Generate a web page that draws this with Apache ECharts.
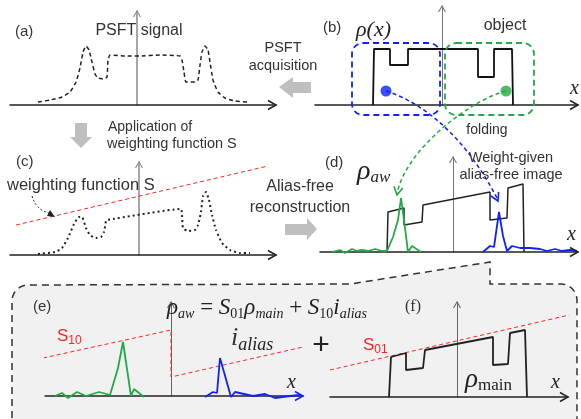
<!DOCTYPE html>
<html>
<head>
<meta charset="utf-8">
<script src="https://cdn.jsdelivr.net/npm/echarts@6/dist/echarts.min.js"></script>
<style>
  html, body { margin: 0; padding: 0; background: #fff; }
  #chart { width: 581px; height: 419px; }
</style>
</head>
<body>
<div id="chart"></div>
<script>
// ---- data (x: position along the axis, y: signal height) ----
// (a) PSFT signal, dashed
const psftSignal = [[-9.9,0.3],[-8.7,0.5],[-7.5,0.8],[-6.7,1.3],[-6.1,2.3],[-5.7,3.7],[-5.4,5.3],[-5.1,5.9],[-4.8,5.5],[-4.5,4.3],[-4.2,3.1],[-3.9,2.7],[-3.3,2.6],[-3.0,2.8],[-2.9,4.5],[-2.7,5.0],[-1.2,4.9],[0.3,4.9],[2.3,5.0],[4.3,4.9],[4.5,4.5],[4.7,3.3],[4.9,2.3],[5.8,2.3],[6.1,2.5],[6.3,4.0],[6.5,5.3],[6.8,5.9],[7.1,5.5],[7.3,4.3],[7.6,2.5],[8.1,1.3],[8.8,0.7],[9.8,0.4],[11.1,0.3]];
// (b) object rho(x) and the two folded points
const objectRho = [[-6.9,0],[-6.8,5.6],[-5.2,5.6],[-5.2,4.0],[-3.4,4.0],[-3.4,5.6],[3.6,5.6],[3.6,2.8],[5.2,2.8],[5.2,5.6],[7.0,5.6],[7.1,0]];
const bluePoint = [[-5.6,1.4]];
const greenPoint = [[6.4,1.4]];
// (c) weighted signal (dotted) and weighting function S
const weightedSignal = [[-10.1,0.1],[-8.4,0.3],[-7.7,0.7],[-7.1,1.7],[-6.5,3.1],[-6.0,3.8],[-5.7,3.8],[-5.3,2.7],[-4.9,2.0],[-4.3,1.7],[-3.8,1.8],[-3.5,2.3],[-3.3,3.4],[-3.2,3.5],[4.2,4.6],[4.3,4.0],[4.4,2.7],[4.9,2.4],[5.6,2.5],[5.9,3.0],[6.2,4.3],[6.4,5.9],[6.7,6.3],[7.0,5.5],[7.3,4.0],[7.7,2.5],[8.3,1.2],[9.1,0.5],[10.1,0.2],[11.1,0.2]];
const weightS = [[-12.3,3.0],[12.9,8.9]];
// (d) alias-free image and the two alias parts
const aliasFree = [[-6.6,0],[-6.5,4.0],[-4.9,4.4],[-4.9,2.7],[-3.1,3.0],[-3.0,4.7],[3.7,6.0],[3.7,3.2],[5.4,3.4],[5.5,6.4],[7.0,6.8],[7.1,0]];
const aliasGreenD = [[-12.1,0],[-11.3,0.2],[-10.8,-0.1],[-10.1,0.3],[-9.6,0.1],[-9.1,0.2],[-8.5,0.1],[-7.8,0.3],[-7.1,0.1],[-6.6,0.1],[-6.0,1.5],[-5.5,3.2],[-5.2,5.4],[-4.9,3.2],[-4.5,0],[-4.1,0.6],[-3.5,0.2],[-3.2,0]];
const aliasBlueD = [[3.0,0],[3.7,0.6],[4.1,0.5],[4.6,4.0],[5.0,1.6],[5.4,0.1],[5.9,0.6],[6.7,0.4],[7.7,0.4],[8.7,0.3],[9.4,0.1],[10.2,0.3],[10.9,0.1],[11.7,0.2],[12.4,0.1]];
// (e) alias image i_alias and weighting S10
const aliasGreenE = [[-11.6,0],[-10.9,0.3],[-10.3,-0.2],[-9.4,0.4],[-8.5,0],[-7.2,0.4],[-6.1,0.1],[-5.3,2.8],[-4.8,5.4],[-4.0,0],[-3.7,0.7],[-2.7,-0.1]];
const aliasBlueE = [[3.4,-0.1],[4.2,0.4],[4.6,0.3],[4.9,3.8],[6.0,-0.1],[6.4,0.4],[8.2,0],[9.4,0.2],[10.4,-0.2],[11.9,0],[12.9,0.1]];
const weightS10 = [[-12.8,3.8],[0,6.6],[0,1.9],[13.2,4.9]];
// (f) main image rho_main and weighting S01
const mainImage = [[-6.8,0],[-6.6,4.0],[-5.1,4.4],[-5.1,2.7],[-3.4,2.9],[-3.2,4.7],[3.6,6.0],[3.6,3.2],[5.1,3.3],[5.3,6.4],[6.8,6.7],[7.0,0]];
const weightS01 = [[-12.7,2.7],[12.1,8.4]];

// ---- layout of the six panels ----
const panels = [
  { left: 10,  top: 11,  width: 266, height: 94, xMin: -12.7, xMax: 13.9, yMax: 9.4, yColor: '#8a8a8a', yWidth: 1.5 },
  { left: 315, top: 6,   width: 263, height: 99, xMin: -12.7, xMax: 13.6, yMax: 9.9, yColor: '#777', yWidth: 1 },
  { left: 10,  top: 162, width: 266, height: 93, xMin: -12.9, xMax: 13.7, yMax: 9.3, yColor: '#8a8a8a', yWidth: 1.5 },
  { left: 320, top: 157, width: 258, height: 95, xMin: -13.3, xMax: 12.5, yMax: 9.5, yColor: '#777', yWidth: 1 },
  { left: 45,  top: 302, width: 258, height: 94, xMin: -12.6, xMax: 13.2, yMax: 9.4, yColor: '#666', yWidth: 1 },
  { left: 330, top: 302, width: 238, height: 95, xMin: -12.7, xMax: 11.1, yMax: 9.5, yColor: '#666', yWidth: 1 }
];

const SANS = 'Liberation Sans';
const SERIF = 'Liberation Serif';
const RED = '#ff2222';
const GREEN = '#22aa44';
const BLUE = '#1020ff';

function line(idx, data, color, width, type, smooth) {
  return {
    type: 'line', xAxisIndex: idx, yAxisIndex: idx, data: data,
    showSymbol: false, clip: false, smooth: smooth || false, silent: true,
    lineStyle: { color: color, width: width, type: type || 'solid' }
  };
}
function dot(idx, data, color) {
  return {
    type: 'scatter', xAxisIndex: idx, yAxisIndex: idx, data: data, symbolSize: 11,
    itemStyle: { color: color }, silent: true, z: 5
  };
}
function txt(x, y, text, size, extra) {
  return {
    type: 'text', x: x, y: y, z: 100, silent: true,
    style: Object.assign({
      text: text, fontSize: size, fontFamily: SANS, fill: '#333',
      align: 'left', textAlign: 'left', verticalAlign: 'middle', textVerticalAlign: 'middle'
    }, extra || {})
  };
}
// open "V" arrow head at tip, pointing away from "from"
function headOpen(tip, from, len, half, color, width) {
  const dx = tip[0] - from[0], dy = tip[1] - from[1];
  const n = Math.hypot(dx, dy), ux = dx / n, uy = dy / n;
  const bx = tip[0] - ux * len, by = tip[1] - uy * len;
  return {
    type: 'polyline', z: 60, silent: true,
    shape: { points: [[bx - uy * half, by + ux * half], tip, [bx + uy * half, by - ux * half]] },
    style: { stroke: color, lineWidth: width || 1.6, fill: null }
  };
}
// quarter-circle corner points for the callout outline
function corner(cx, cy, r, a0, a1) {
  const pts = [];
  for (let k = 0; k <= 6; k++) {
    const a = a0 + (a1 - a0) * k / 6;
    pts.push([cx + r * Math.cos(a), cy + r * Math.sin(a)]);
  }
  return pts;
}
const calloutPts = [[12, 430]]
  .concat(corner(28, 301, 16, Math.PI, Math.PI * 1.5))
  .concat([[350, 284], [490, 262], [490, 284]])
  .concat(corner(561, 300, 16, Math.PI * 1.5, Math.PI * 2))
  .concat([[577, 430]]);

const sub = function (size, pad, italic) {
  return { fontFamily: SERIF, fontStyle: italic ? 'italic' : 'normal', fontSize: size, fill: '#222', color: '#222', padding: [pad, 0, 0, 0] };
};

const grids = panels.map(p => ({ left: p.left, top: p.top, width: p.width, height: p.height }));
const xAxes = panels.map((p, i) => ({
  type: 'value', gridIndex: i, min: p.xMin, max: p.xMax,
  axisLine: { onZero: true, lineStyle: { color: '#222', width: 1.5 } },
  axisTick: { show: false }, axisLabel: { show: false }, splitLine: { show: false }
}));
const yAxes = panels.map((p, i) => ({
  type: 'value', gridIndex: i, min: 0, max: p.yMax,
  axisLine: { onZero: true, lineStyle: { color: p.yColor, width: p.yWidth } },
  axisTick: { show: false }, axisLabel: { show: false }, splitLine: { show: false }
}));

const graphics = [
  // callout box around (e) and (f)
  { type: 'polygon', z: -5, silent: true, shape: { points: calloutPts },
    style: { fill: '#f1f1f1', stroke: '#333', lineWidth: 1.5, lineDash: [7, 5] } },
  // dashed boxes in (b)
  { type: 'rect', z: 50, silent: true, shape: { x: 352, y: 43, width: 88, height: 72, r: 11 },
    style: { fill: 'none', stroke: BLUE, lineWidth: 1.8, lineDash: [6, 4] } },
  { type: 'rect', z: 50, silent: true, shape: { x: 445, y: 43, width: 89, height: 72, r: 11 },
    style: { fill: 'none', stroke: GREEN, lineWidth: 1.8, lineDash: [6, 4] } },
  // folding curves
  { type: 'bezierCurve', z: 60, silent: true,
    shape: { x1: 386, y1: 91, cpx1: 430, cpy1: 105, cpx2: 470, cpy2: 145, x2: 498, y2: 200 },
    style: { stroke: BLUE, lineWidth: 1.5, lineDash: [4, 3], fill: null } },
  headOpen([498, 201], [484, 172], 8, 4.5, BLUE),
  { type: 'bezierCurve', z: 60, silent: true,
    shape: { x1: 506, y1: 91, cpx1: 470, cpy1: 100, cpx2: 405, cpy2: 150, x2: 397, y2: 194 },
    style: { stroke: GREEN, lineWidth: 1.5, lineDash: [4, 3], fill: null } },
  headOpen([397, 195], [401, 172], 8, 4.5, GREEN),
  // gray block arrows
  { type: 'polygon', z: 20, silent: true, shape: { points: [[279,87],[293,77],[293,82],[311,82],[311,93],[293,93],[293,98]] }, style: { fill: '#bfbfbf' } },
  { type: 'polygon', z: 20, silent: true, shape: { points: [[75,123],[87,123],[87,137],[92,137],[81,148],[70,137],[75,137]] }, style: { fill: '#bfbfbf' } },
  { type: 'polygon', z: 20, silent: true, shape: { points: [[285,224],[307,224],[307,218],[317,229],[307,240],[307,235],[285,235]] }, style: { fill: '#bfbfbf' } },
  // small pointer in (c)
  { type: 'bezierCurve', z: 60, silent: true,
    shape: { x1: 32, y1: 196, cpx1: 36, cpy1: 210, x2: 49, y2: 213 },
    style: { stroke: '#222', lineWidth: 1, lineDash: [2, 2], fill: null } },
  { type: 'polygon', z: 60, silent: true, shape: { points: [[55,217],[47,216],[50,210]] }, style: { fill: '#222' } },

  // labels
  txt(15, 32, '(a)', 15),
  txt(139, 31, 'PSFT signal', 16, { align: 'center', textAlign: 'center' }),
  txt(283, 48, 'PSFT', 14.5, { align: 'center', textAlign: 'center' }),
  txt(283, 66, 'acquisition', 14.5, { align: 'center', textAlign: 'center' }),
  txt(323, 28, '(b)', 15),
  txt(356, 30, 'ρ(x)', 22, { fontFamily: SERIF, fontStyle: 'italic', fill: '#222' }),
  txt(505, 26, 'object', 16, { align: 'center', textAlign: 'center' }),
  txt(570, 89, 'x', 20, { fontFamily: SERIF, fontStyle: 'italic', fill: '#222' }),
  txt(487, 130, 'folding', 14, { align: 'center', textAlign: 'center' }),
  txt(108, 127, 'Application of', 14),
  txt(107, 144, 'weighting function S', 14.5),
  txt(16, 162, '(c)', 15),
  txt(7, 185, 'weighting function S', 16.5),
  txt(300, 187, 'Alias-free', 16, { align: 'center', textAlign: 'center' }),
  txt(300, 208, 'reconstruction', 16, { align: 'center', textAlign: 'center' }),
  txt(325, 163, '(d)', 15),
  txt(357, 172, '{r|ρ}{s|aw}', 26, { rich: { r: { fontFamily: SERIF, fontStyle: 'italic', fontSize: 28, fill: '#222', color: '#222' }, s: sub(17, 12, true) } }),
  txt(511, 158, 'Weight-given', 14.5, { align: 'center', textAlign: 'center' }),
  txt(511, 175, 'alias-free image', 14.5, { align: 'center', textAlign: 'center' }),
  txt(567, 235, 'x', 20, { fontFamily: SERIF, fontStyle: 'italic', fill: '#222' }),
  txt(33, 307, '(e)', 15),
  txt(57, 336, '{a|S}{b|10}', 17, { rich: { a: { fontFamily: SANS, fontSize: 17, fill: RED, color: RED }, b: { fontFamily: SANS, fontSize: 12, fill: RED, color: RED, padding: [9, 0, 0, 0] } } }),
  txt(167, 308, '{r|ρ}{s|aw}{n| = }{r|S}{d|01}{r|ρ}{s|main}{n| + }{r|S}{d|10}{r|i}{s|alias}', 22, {
    rich: {
      r: { fontFamily: SERIF, fontStyle: 'italic', fontSize: 23, fill: '#222', color: '#222' },
      n: { fontFamily: SERIF, fontSize: 23, fill: '#222', color: '#222' },
      s: sub(14, 12, true),
      d: sub(14, 12, false)
    }
  }),
  txt(231, 338, '{r|i}{s|alias}', 24, { rich: { r: { fontFamily: SERIF, fontStyle: 'italic', fontSize: 26, fill: '#333', color: '#333' }, s: sub(18, 14, true) } }),
  txt(287, 383, 'x', 20, { fontFamily: SERIF, fontStyle: 'italic', fill: '#222' }),
  txt(321, 346, '+', 30, { align: 'center', textAlign: 'center', fontFamily: SANS, fill: '#222' }),
  txt(405, 307, '(f)', 16, { fontFamily: SERIF }),
  txt(363, 345, '{a|S}{b|01}', 17, { rich: { a: { fontFamily: SANS, fontSize: 17, fill: RED, color: RED }, b: { fontFamily: SANS, fontSize: 12, fill: RED, color: RED, padding: [9, 0, 0, 0] } } }),
  txt(465, 380, '{r|ρ}{s|main}', 24, { rich: { r: { fontFamily: SERIF, fontStyle: 'italic', fontSize: 27, fill: '#222', color: '#222' }, s: sub(17, 12, false) } }),
  txt(551, 383, 'x', 20, { fontFamily: SERIF, fontStyle: 'italic', fill: '#222' })
];

const chart = echarts.init(document.getElementById('chart'), null, { renderer: 'canvas' });
const option = {
  backgroundColor: '#fff',
  animation: false,
  grid: grids,
  xAxis: xAxes,
  yAxis: yAxes,
  graphic: { elements: graphics },
  series: [
    line(0, psftSignal, '#222', 1.5, [4, 3], 0.15),
    line(1, objectRho, '#111', 1.8),
    dot(1, bluePoint, BLUE),
    dot(1, greenPoint, GREEN),
    line(2, weightS, RED, 1, [4, 3]),
    line(2, weightedSignal, '#222', 2, [2, 3], 0.15),
    line(3, aliasFree, '#222', 1.5),
    line(3, aliasGreenD, GREEN, 1.8),
    line(3, aliasBlueD, BLUE, 1.8),
    line(4, weightS10, RED, 1, [4, 3]),
    line(4, aliasGreenE, GREEN, 1.8),
    line(4, aliasBlueE, BLUE, 1.8),
    line(5, weightS01, RED, 1, [4, 3]),
    line(5, mainImage, '#222', 1.8)
  ]
};
chart.setOption(option);

// open arrow heads at the ends of every axis, placed through the axes' own scales
const heads = [];
panels.forEach((p, i) => {
  const xEnd = chart.convertToPixel({ gridIndex: i }, [p.xMax, 0]);
  const xPrev = chart.convertToPixel({ gridIndex: i }, [p.xMin, 0]);
  heads.push(headOpen(xEnd, xPrev, 8, 4.5, i === 4 ? BLUE : '#222', 1.5));
  const yEnd = chart.convertToPixel({ gridIndex: i }, [0, p.yMax]);
  const yPrev = chart.convertToPixel({ gridIndex: i }, [0, 0]);
  heads.push(headOpen(yEnd, yPrev, 6, 3.5, p.yColor, 1.1));
});
chart.setOption({ graphic: { elements: graphics.concat(heads) } });
</script>
</body>
</html>
